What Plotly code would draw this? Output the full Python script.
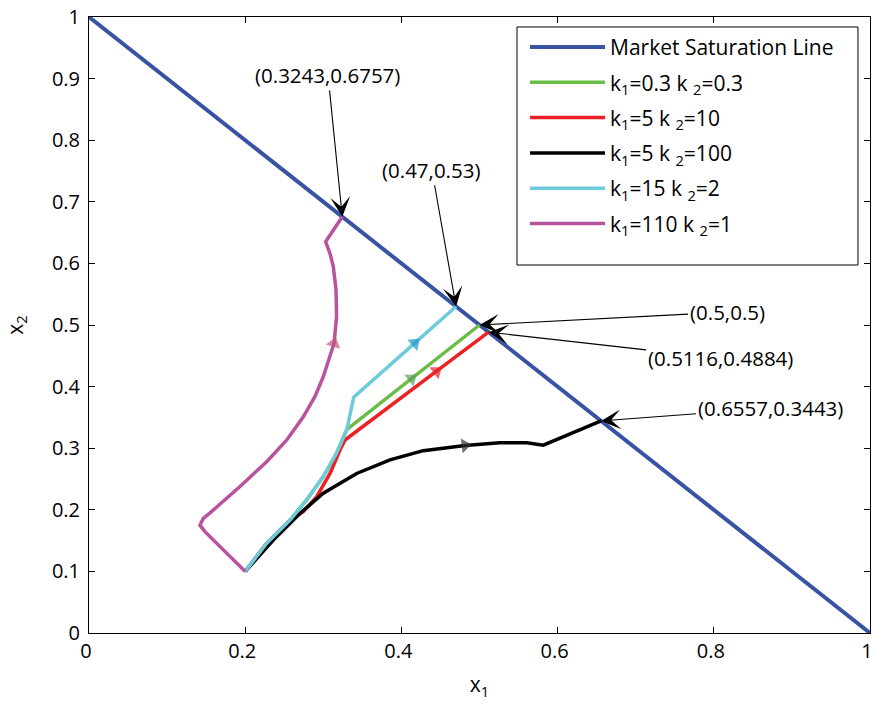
import plotly.graph_objects as go

# Market saturation line x1 + x2 = 1
sat_x = [0.0, 1.0]
sat_y = [1.0, 0.0]

# Trajectories (x1, x2) for each parameter pair
green_x = [0.200, 0.2275, 0.2574, 0.2787, 0.300, 0.317, 0.330, 0.413, 0.500]
green_y = [0.100, 0.1456, 0.1834, 0.216, 0.254, 0.2917, 0.330, 0.413, 0.500]

red_x = [0.200, 0.2275, 0.2574, 0.2744, 0.2915, 0.3086, 0.3214, 0.3278, 0.445, 0.5116]
red_y = [0.100, 0.1456, 0.1834, 0.197, 0.2213, 0.259, 0.297, 0.3133, 0.425, 0.4884]

black_x = [0.200, 0.236, 0.270, 0.300, 0.3427, 0.3854, 0.428, 0.4814, 0.526, 0.5604, 0.5817, 0.6557]
black_y = [0.100, 0.151, 0.194, 0.2268, 0.259, 0.281, 0.296, 0.3045, 0.309, 0.309, 0.305, 0.3443]

cyan_x = [0.200, 0.2275, 0.2574, 0.2787, 0.300, 0.317, 0.330, 0.3363, 0.339, 0.417, 0.470]
cyan_y = [0.100, 0.1456, 0.1834, 0.216, 0.254, 0.2917, 0.3295, 0.3648, 0.383, 0.4705, 0.530]

mag_x = [0.200, 0.172, 0.1485, 0.142, 0.1464, 0.155, 0.193, 0.2275, 0.253, 0.2744,
         0.2894, 0.300, 0.3086, 0.3137, 0.317, 0.3163, 0.3128, 0.3086, 0.303, 0.3243]
mag_y = [0.100, 0.135, 0.1645, 0.175, 0.186, 0.195, 0.2375, 0.278, 0.313, 0.351,
         0.384, 0.416, 0.4486, 0.470, 0.513, 0.557, 0.595, 0.616, 0.635, 0.6757]

# index of the vertex carrying the direction arrow
green_arrow = 7
red_arrow = 8
black_arrow = 7
cyan_arrow = 9
mag_arrow = 13

names = ["Market Saturation Line",
         "k<sub>1</sub>=0.3 k <sub>2</sub>=0.3",
         "k<sub>1</sub>=5 k <sub>2</sub>=10",
         "k<sub>1</sub>=5 k <sub>2</sub>=100",
         "k<sub>1</sub>=15 k <sub>2</sub>=2",
         "k<sub>1</sub>=110 k <sub>2</sub>=1"]

# End-point labels: (text, point x, point y, text x, text y)
label_text = ["(0.3243,0.6757)", "(0.47,0.53)", "(0.5,0.5)", "(0.5116,0.4884)", "(0.6557,0.3443)"]
label_px = [0.3243, 0.47, 0.5, 0.5116, 0.6557]
label_py = [0.6757, 0.53, 0.5, 0.4884, 0.3443]
label_tx = [0.306, 0.439, 0.817, 0.808, 0.872]
label_ty = [0.906, 0.752, 0.521, 0.446, 0.365]

FONT = "Open Sans"

fig = go.Figure()

fig.add_trace(go.Scatter(x=sat_x, y=sat_y, mode="lines", name=names[0],
                         legendgroup="g0",
                         line=dict(color="#3953a4", width=4)))

paths = [
    (green_x, green_y, green_arrow, names[1], "#6abd45", "#5e9c5a"),
    (red_x, red_y, red_arrow, names[2], "#ed2024", "#e8202a"),
    (black_x, black_y, black_arrow, names[3], "#000000", "#333338"),
    (cyan_x, cyan_y, cyan_arrow, names[4], "#6dcbdb", "#1e95c9"),
    (mag_x, mag_y, mag_arrow, names[5], "#b9529f", "#c5527e"),
]

for i, (xs, ys, ai, nm, col, acol) in enumerate(paths):
    fig.add_trace(go.Scatter(x=xs, y=ys, mode="lines", name=nm,
                             legendgroup=f"g{i + 1}",
                             line=dict(color=col, width=3.5)))

for xs, ys, ai, nm, col, acol in paths:
    fig.add_trace(go.Scatter(
        x=[xs[ai - 1], xs[ai]], y=[ys[ai - 1], ys[ai]], mode="markers",
        showlegend=False, hoverinfo="skip",
        marker=dict(symbol="triangle-up", size=[0, 13], color=acol,
                    angleref="previous", line=dict(width=0))))

for t, px, py, tx, ty in zip(label_text, label_px, label_py, label_tx, label_ty):
    fig.add_annotation(x=px, y=py, ax=tx, ay=ty, xref="x", yref="y",
                       axref="x", ayref="y", text=t, showarrow=True,
                       arrowhead=3, arrowsize=3.0, arrowwidth=1.1,
                       arrowcolor="black",
                       font=dict(family=FONT, size=20.5, color="black"))

# framed legend panel
fig.add_shape(type="rect", xref="paper", yref="paper",
              x0=0.548, x1=0.9846, y0=0.5974, y1=0.9838,
              line=dict(color="black", width=1), fillcolor="white", layer="above")

axis_common = dict(showline=True, linecolor="black", linewidth=1, mirror="ticks",
                   ticks="inside", ticklen=6, tickcolor="black", showgrid=False,
                   zeroline=False, ticklabeloverflow="allow", automargin=False,
                   tickfont=dict(family=FONT, size=20, color="black"))

fig.update_xaxes(range=[0, 1], tickvals=[0, 0.2, 0.4, 0.6, 0.8, 1],
                 ticktext=["0", "0.2", "0.4", "0.6", "0.8", "1"],
                 ticklabelshift=-3,
                 title=dict(text="x<sub>1</sub>", font=dict(family=FONT, size=21, color="black"),
                            standoff=14),
                 **axis_common)
fig.update_yaxes(range=[0, 1], tickvals=[i / 10 for i in range(11)],
                 ticktext=["0", "0.1", "0.2", "0.3", "0.4", "0.5", "0.6", "0.7", "0.8", "0.9", "1"],
                 ticklabelstandoff=4,
                 title=dict(text="x<sub>2</sub>", font=dict(family=FONT, size=21, color="black"),
                            standoff=22),
                 **axis_common)

fig.update_layout(
    width=873, height=707,
    margin=dict(l=89, r=3, t=17, b=74),
    plot_bgcolor="white", paper_bgcolor="white",
    font=dict(family=FONT, size=20, color="black"),
    legend=dict(x=0.5583, y=0.984, xanchor="left", yanchor="top",
                bgcolor="rgba(0,0,0,0)", borderwidth=0,
                itemwidth=75, font=dict(family=FONT, size=21, color="black"),
                tracegroupgap=5),
)

fig.write_html("out.html")
